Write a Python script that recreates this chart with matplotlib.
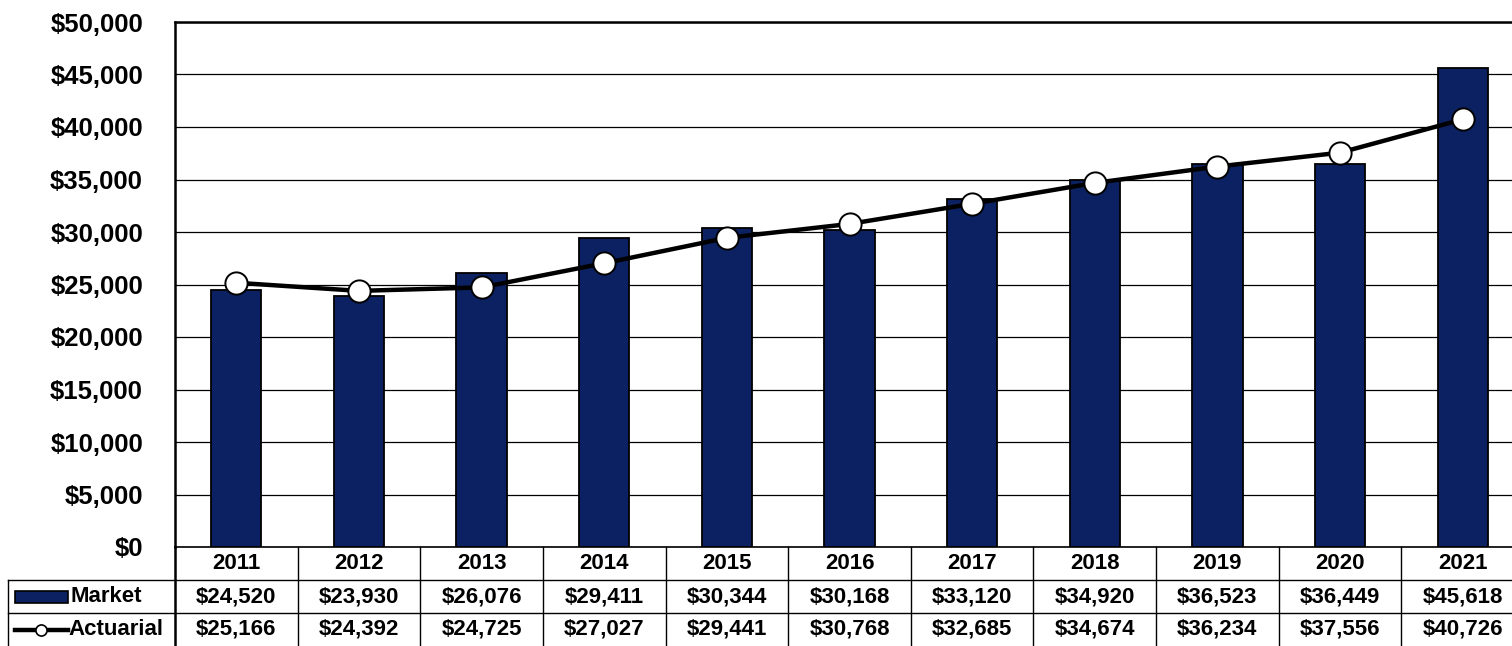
import matplotlib.pyplot as plt
import matplotlib.transforms as mtransforms
from matplotlib.patches import Rectangle
from matplotlib.lines import Line2D
import numpy as np

plt.rcParams['font.family'] = ['Liberation Sans', 'DejaVu Sans']
plt.rcParams['font.weight'] = 'bold'

years = ['2011', '2012', '2013', '2014', '2015', '2016', '2017', '2018', '2019', '2020', '2021']
market = [24520, 23930, 26076, 29411, 30344, 30168, 33120, 34920, 36523, 36449, 45618]
actuarial = [25166, 24392, 24725, 27027, 29441, 30768, 32685, 34674, 36234, 37556, 40726]

NAVY = '#0b2161'
W, H = 1512, 646

fig = plt.figure(figsize=(15.12, 6.46), dpi=100)
# plot area runs past the right edge of the figure
ax = fig.add_axes([175 / W, 99 / H, 1349 / W, 525 / H])

x = np.arange(len(years))
ax.bar(x, market, width=0.41, color=NAVY, edgecolor='black', linewidth=1.3, zorder=3)
ax.plot(x, actuarial, color='black', linewidth=3.2, marker='o', markersize=16,
        markerfacecolor='white', markeredgecolor='black', markeredgewidth=1.4, zorder=4)

ax.set_xlim(-0.5, len(years) - 0.5)
ax.set_ylim(0, 50000)
ax.set_yticks(np.arange(0, 50001, 5000))
ax.set_yticklabels(['${:,}'.format(v) for v in range(0, 50001, 5000)],
                   fontsize=18.5, fontweight='bold')
ax.tick_params(axis='y', length=0, pad=23)
ax.set_xticks([])
ax.yaxis.grid(True, color='black', linewidth=0.9, zorder=0)
for side in ['top', 'left']:
    ax.spines[side].set_linewidth(1.8)
ax.spines['bottom'].set_linewidth(1.2)
ax.spines['right'].set_visible(False)

# data table under the chart
tr = mtransforms.blended_transform_factory(ax.transData, fig.transFigure)
rows = [547, 580, 613, 646]
ry = [(H - r) / H for r in rows]
lkw = dict(color='black', linewidth=1.0, clip_on=False)

for yv in ry[1:3]:
    fig.add_artist(Line2D([8 / W, 1], [yv, yv], **lkw))
fig.add_artist(Line2D([8 / W, 8 / W], [ry[1], ry[3]], **lkw))
fig.add_artist(Line2D([175 / W, 175 / W], [ry[0], ry[3]], color='black', linewidth=1.8))
for i in range(1, len(years)):
    fig.add_artist(Line2D([i - 0.5, i - 0.5], [ry[0], ry[3]], transform=tr, **lkw))

def cell_text(i, row, s, size):
    yc = (ry[row] + ry[row + 1]) / 2
    fig.text(i, yc, s, transform=tr, ha='center', va='center',
             fontsize=size, fontweight='bold')

for i, yr in enumerate(years):
    cell_text(i, 0, yr, 16)
    cell_text(i, 1, '${:,}'.format(market[i]), 16)
    cell_text(i, 2, '${:,}'.format(actuarial[i]), 16)

# row headers with legend keys
ym = (ry[1] + ry[2]) / 2
ya = (ry[2] + ry[3]) / 2
fig.add_artist(Rectangle((15 / W, ym - 6 / H), 53 / W, 12 / H, facecolor=NAVY,
                         edgecolor='black', linewidth=1.2))
fig.text(70 / W, ym, 'Market', ha='left', va='center', fontsize=16, fontweight='bold')
fig.add_artist(Line2D([15 / W, 68 / W], [ya, ya], color='black', linewidth=3.2))
fig.add_artist(Line2D([41 / W], [ya], marker='o', markersize=8, markerfacecolor='white',
                      markeredgecolor='black', markeredgewidth=1.2, color='black'))
fig.text(68 / W, ya, 'Actuarial', ha='left', va='center', fontsize=16, fontweight='bold')

fig.savefig('out.png', dpi=100)
